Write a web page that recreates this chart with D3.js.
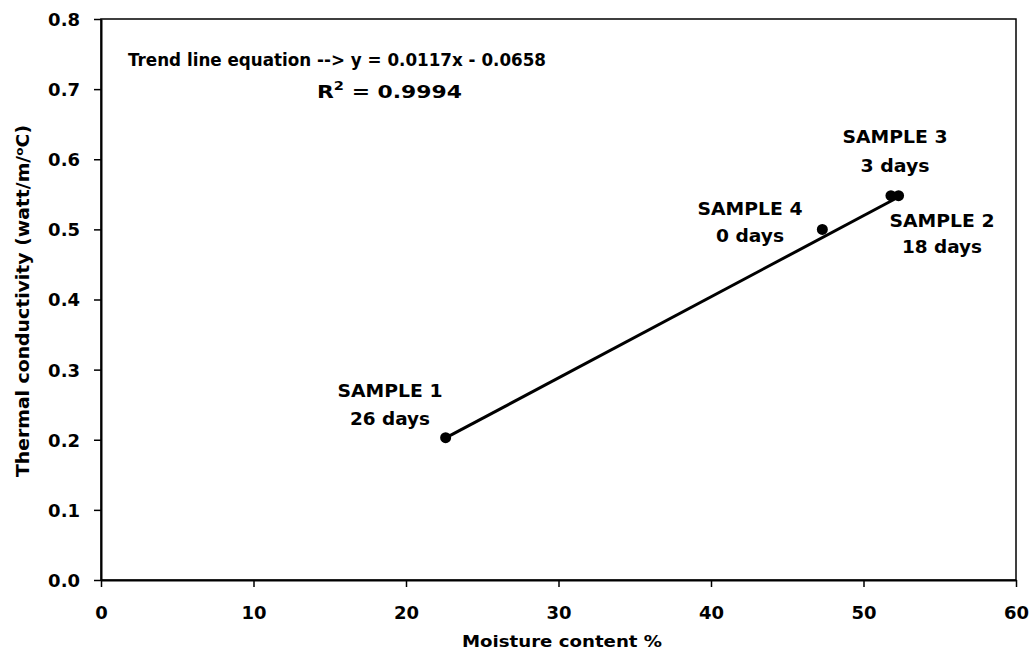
<!DOCTYPE html>
<html><head><meta charset="utf-8">
<script src="https://cdn.jsdelivr.net/npm/d3@7"></script>
<style>body{margin:0;background:#fff}svg{display:block}</style>
</head><body>
<svg id="c" width="1031" height="660"></svg>
<script>
const samples = ["SAMPLE 1", "SAMPLE 4", "SAMPLE 3", "SAMPLE 2"];
const ages = ["26 days", "0 days", "3 days", "18 days"];
const moisture = [22.6, 47.3, 51.8, 52.3];
const conductivity = [0.203, 0.50, 0.548, 0.548];
const trendSlope = 0.0117, trendIntercept = -0.0658;
const xTicks = [0, 10, 20, 30, 40, 50, 60];
const yTicks = [0, 0.1, 0.2, 0.3, 0.4, 0.5, 0.6, 0.7, 0.8];

const svg = d3.select("#c");
const F = "'DejaVu Sans', sans-serif";
const x = d3.scaleLinear().domain([0, 60]).range([101, 1016]);
const y = d3.scaleLinear().domain([0, 0.8]).range([580, 19]);

function fit(sel, w) {
  const n = sel.node();
  const len = n.getComputedTextLength();
  if (len > 0) sel.attr("textLength", w).attr("lengthAdjust", "spacingAndGlyphs");
  return sel;
}
function txt(xp, yp, size, anchor) {
  return svg.append("text").attr("x", xp).attr("y", yp).attr("text-anchor", anchor || "start")
    .attr("font-family", F).attr("font-weight", "bold")
    .attr("font-size", size).attr("fill", "#000");
}

// frame
svg.append("rect").attr("x", x(0)).attr("y", y(0.8)).attr("width", x(60) - x(0)).attr("height", y(0) - y(0.8))
  .attr("fill", "none").attr("stroke", "#000").attr("stroke-width", 1.5);

// axes
const xa = svg.append("g").attr("transform", `translate(0,${y(0)})`)
  .call(d3.axisBottom(x).tickValues(xTicks).tickSize(7).tickSizeOuter(0).tickFormat(d3.format("d")));
const ya = svg.append("g").attr("transform", `translate(${x(0)},0)`)
  .call(d3.axisLeft(y).tickValues(yTicks).tickSize(7).tickSizeOuter(0).tickFormat(d3.format(".1f")));
[xa, ya].forEach(g => {
  g.select(".domain").attr("stroke", "#000").attr("stroke-width", 2);
  g.selectAll(".tick line").attr("stroke", "#000").attr("stroke-width", 1.5);
  g.selectAll("text").attr("font-family", F).attr("font-weight", "bold")
    .attr("font-size", 18).attr("fill", "#000");
});
xa.selectAll("text").attr("dy", 0).attr("y", 39);
ya.selectAll("text").attr("x", -21).attr("dy", "0.36em");

// axis titles
fit(txt(562, 647, 16, "middle").text("Moisture content %"), 200);
const yt = svg.append("text").attr("transform", "translate(29,301) rotate(-90)").attr("text-anchor", "middle")
  .attr("font-family", F).attr("font-size", 17).attr("font-weight", 600);
yt.append("tspan").text("Thermal conductivity (watt/m/");
yt.append("tspan").attr("dy", -6).attr("font-size", 11).text("o");
yt.append("tspan").attr("dy", 6).text("C)");
fit(yt, 352);

// trend line
const x1 = d3.min(moisture), x2 = d3.max(moisture);
svg.append("line").attr("x1", x(x1)).attr("y1", y(trendSlope * x1 + trendIntercept + 0.004))
  .attr("x2", x(x2)).attr("y2", y(trendSlope * x2 + trendIntercept))
  .attr("stroke", "#000").attr("stroke-width", 3);

// points
svg.selectAll("circle.p").data(moisture).join("circle").attr("class", "p")
  .attr("cx", d => x(d)).attr("cy", (d, i) => y(conductivity[i])).attr("r", 5.5).attr("fill", "#000");

// labels
const labPos = [[390, 397, 425], [750, 215, 242], [895, 143, 172], [942, 227, 253]];
const labW = [[105, 80], [105, 68], [105, 69], [105, 80]];
samples.forEach((s, i) => {
  const [cx, b1, b2] = labPos[i];
  fit(txt(cx, b1, 18, "middle").text(s), labW[i][0]);
  fit(txt(cx, b2, 18, "middle").text(ages[i]), labW[i][1]);
});

// equation
fit(txt(128, 66, 18).text(`Trend line equation  --> y = ${trendSlope}x - ${Math.abs(trendIntercept)}`), 418);
const r2 = txt(317, 98, 18);
r2.append("tspan").text("R");
r2.append("tspan").attr("dy", -8).attr("font-size", 12).text("2");
r2.append("tspan").attr("dy", 8).text(" = 0.9994");
fit(r2, 145);
</script>
</body></html>
